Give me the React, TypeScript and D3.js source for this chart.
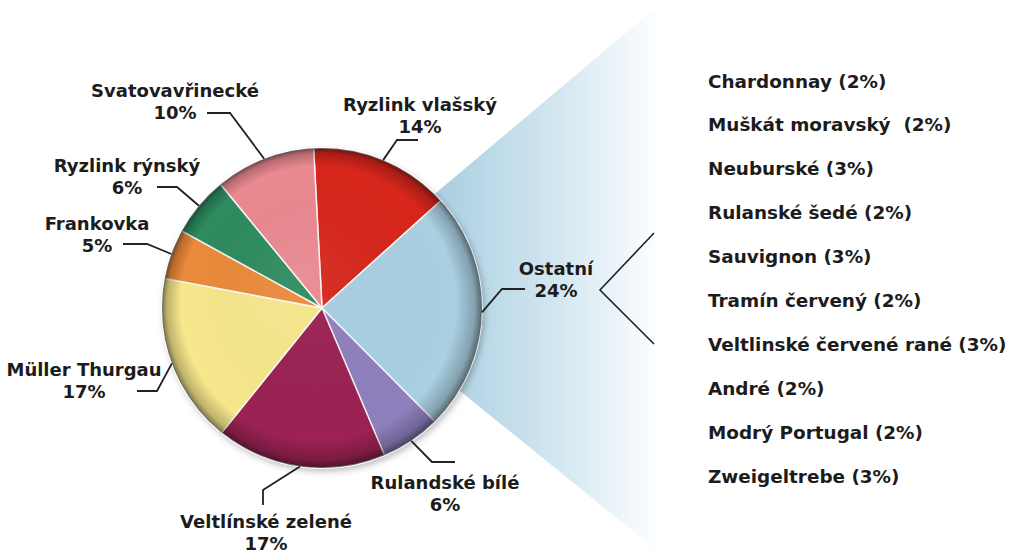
import React from "react";
import * as d3 from "d3";

// ---- data ----
const categories = [
  "Ryzlink vlašský",
  "Ostatní",
  "Rulandské bílé",
  "Veltlínské zelené",
  "Müller Thurgau",
  "Frankovka",
  "Ryzlink rýnský",
  "Svatovavřinecké",
];
const values = [14, 24, 6, 17, 17, 5, 6, 10];
const colors = [
  "#d7281f",
  "#a9cfe1",
  "#8e80be",
  "#9b2253",
  "#f6e78c",
  "#ea8a3b",
  "#2f8b5f",
  "#ea8990",
];
const otherNames = [
  "Chardonnay",
  "Muškát moravský ",
  "Neuburské",
  "Rulanské šedé",
  "Sauvignon",
  "Tramín červený",
  "Veltlinské červené rané",
  "André",
  "Modrý Portugal",
  "Zweigeltrebe",
];
const otherValues = [2, 2, 3, 2, 3, 2, 3, 2, 2, 3];

// ---- layout (label placement, not data) ----
const labelLayout = [
  { x: 420, y: 104, line: [[418, 140], [397, 140]] },
  { x: 556, y: 268, line: [[525, 289], [502, 289]] },
  { x: 445, y: 482, line: [[455, 462], [432, 462]] },
  { x: 266, y: 521, line: [[263, 505], [263, 490]] },
  { x: 84, y: 369, line: [[137, 391], [157, 391]] },
  { x: 97, y: 223, line: [[123, 244], [147, 244]] },
  { x: 127, y: 165, line: [[157, 187], [177, 187]] },
  { x: 175, y: 90, line: [[207, 113], [230, 113]] },
];

const W = 1009;
const H = 553;
const CX = 322;
const CY = 308;
const R = 160;
const FONT = "'DejaVu Sans', Verdana, sans-serif";
const TXT = "#1c1c1c";
const FS = 18;

export default function App() {
  const start = (-3 * Math.PI) / 180;
  const pie = d3
    .pie<number>()
    .sort(null)
    .startAngle(start)
    .endAngle(start + 2 * Math.PI)
    .value((d) => d);
  const arcs = pie(values);
  const arc = d3.arc<d3.PieArcDatum<number>>().innerRadius(0).outerRadius(R);
  const edgeArc = d3
    .arc<d3.PieArcDatum<number>>()
    .innerRadius(R)
    .outerRadius(R);

  const rowY = d3
    .scalePoint<number>()
    .domain(d3.range(otherNames.length))
    .range([81, 476]);

  const line = d3.line();

  return (
    <svg
      width={W}
      height={H}
      style={{ position: "absolute", left: 0, top: 0, background: "#fff" }}
    >
      <defs>
        <linearGradient
          id="wedge"
          gradientUnits="userSpaceOnUse"
          x1={430}
          y1={0}
          x2={662}
          y2={0}
        >
          <stop offset="0" stopColor="#a7cde0" />
          <stop offset="0.55" stopColor="#d3e7f1" />
          <stop offset="1" stopColor="#ffffff" />
        </linearGradient>
        <radialGradient id="bevel" cx="0.5" cy="0.5" r="0.5" fx="0.42" fy="0.4">
          <stop offset="0" stopColor="#ffffff" stopOpacity="0.06" />
          <stop offset="0.86" stopColor="#000000" stopOpacity="0" />
          <stop offset="0.96" stopColor="#000000" stopOpacity="0.22" />
          <stop offset="1" stopColor="#000000" stopOpacity="0.5" />
        </radialGradient>
        <filter id="shadow" x="-10%" y="-10%" width="120%" height="120%">
          <feDropShadow dx="2" dy="3" stdDeviation="3" floodOpacity="0.25" />
        </filter>
      </defs>

      {/* expansion wedge for Ostatní */}
      <path
        d={line([
          [328, 284],
          [660, 4],
          [660, 553],
          [328, 284],
        ] as [number, number][])!}
        fill="url(#wedge)"
      />

      {/* bracket */}
      <path
        d={line([
          [654, 233],
          [600, 290],
          [654, 344],
        ] as [number, number][])!}
        fill="none"
        stroke="#222"
        strokeWidth={1.6}
      />

      <g transform={`translate(${CX},${CY})`}>
        <g filter="url(#shadow)">
          {arcs.map((a, i) => (
            <path
              key={i}
              d={arc(a)!}
              fill={colors[i]}
              stroke="#fff"
              strokeWidth={1.5}
              strokeOpacity={0.85}
            />
          ))}
        </g>
        <circle r={R} fill="url(#bevel)" />
        <circle r={R - 0.5} fill="none" stroke="#3b4a55" strokeOpacity={0.35} strokeWidth={1} />
      </g>

      {/* labels */}
      {arcs.map((a, i) => {
        const [ex, ey] = edgeArc.centroid(a);
        const L = labelLayout[i];
        const pts = [
          L.line[0],
          L.line[1],
          [CX + ex, CY + ey],
        ] as [number, number][];
        return (
          <g key={i}>
            <path d={line(pts)!} fill="none" stroke="#222" strokeWidth={1.8} />
            <text
              x={L.x}
              y={L.y}
              textAnchor="middle"
              dominantBaseline="central"
              fontFamily={FONT}
              fontWeight="bold"
              fontSize={FS}
              fill={TXT}
            >
              {categories[i]}
            </text>
            <text
              x={L.x}
              y={L.y + 22}
              textAnchor="middle"
              dominantBaseline="central"
              fontFamily={FONT}
              fontWeight="bold"
              fontSize={FS}
              fill={TXT}
            >
              {values[i] + "%"}
            </text>
          </g>
        );
      })}

      {/* list of others */}
      {otherNames.map((n, i) => (
        <text
          key={i}
          x={708}
          y={rowY(i)}
          dominantBaseline="central"
          fontFamily={FONT}
          fontWeight="bold"
          fontSize={FS + 0.4}
          fill={TXT}
          style={{ whiteSpace: "pre" }}
        >
          {`${n} (${otherValues[i]}%)`}
        </text>
      ))}
    </svg>
  );
}
